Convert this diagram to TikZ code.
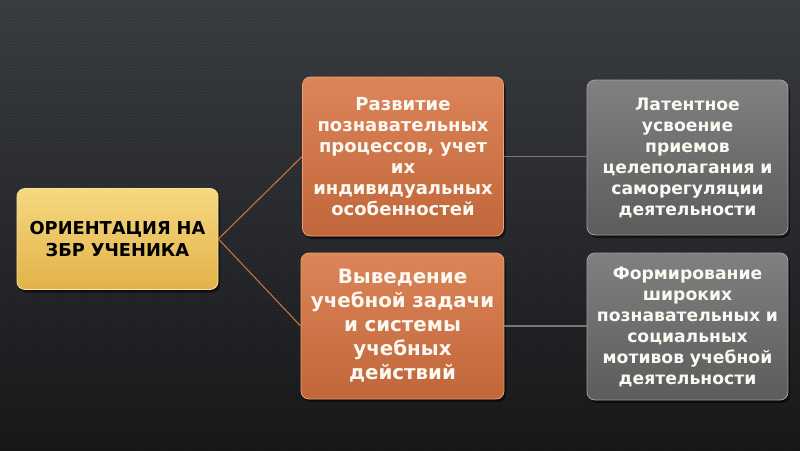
\documentclass[tikz,border=0pt]{standalone}
\usepackage{fontspec}
\setmainfont{DejaVu Sans}
\usetikzlibrary{shadows,patterns}
\definecolor{bgT}{RGB}{58,61,66}
\definecolor{bgB}{RGB}{24,24,26}
\definecolor{yelT}{RGB}{246,216,128}
\definecolor{yelB}{RGB}{226,178,72}
\definecolor{yelE}{RGB}{250,228,160}
\definecolor{orT}{RGB}{220,133,88}
\definecolor{orB}{RGB}{192,102,58}
\definecolor{orE}{RGB}{236,160,112}
\definecolor{grT}{RGB}{128,128,128}
\definecolor{grB}{RGB}{92,92,92}
\definecolor{grE}{RGB}{160,160,160}
\definecolor{txtW}{RGB}{252,248,242}
\definecolor{lnO}{RGB}{190,116,72}
\definecolor{lnG}{RGB}{118,118,118}
\tikzset{
  box/.style={rounded corners=8pt, inner sep=0pt, align=center, font=\bfseries,
    line width=0.8pt,
    drop shadow={shadow xshift=2pt, shadow yshift=-3pt, opacity=0.55, fill=black}},
  ybox/.style={box, top color=yelT, bottom color=yelB, draw=yelE, text=black},
  obox/.style={box, top color=orT, bottom color=orB, draw=orE, text=txtW},
  gbox/.style={box, top color=grT, bottom color=grB, draw=grE, text=txtW},
  olink/.style={draw=lnO, line width=1.1pt},
  glink/.style={draw=lnG, line width=1.3pt}
}
\begin{document}
\begin{tikzpicture}[x=1pt,y=-1pt]
\useasboundingbox (0,0) rectangle (800,450);
\fill[top color=bgT, bottom color=bgB] (0,0) rectangle (800,450);
\fill[pattern=dots, pattern color=black, fill opacity=0.4] (0,0) rectangle (800,450);

\node[ybox, minimum width=201pt, minimum height=101pt, text width=198pt,
      font=\bfseries\fontsize{17.8}{22}\selectfont] (yel) at (117.5,239)
  {ОРИЕНТАЦИЯ НА\\ЗБР УЧЕНИКА};

\node[obox, minimum width=201pt, minimum height=159pt, text width=198pt,
      font=\bfseries\fontsize{18}{21}\selectfont] (o1) at (403,156.5)
  {Развитие\\познавательных\\процессов, учет\\их\\индивидуальных\\особенностей};

\node[obox, minimum width=203pt, minimum height=146pt, text width=200pt,
      font=\bfseries\fontsize{19.8}{24}\selectfont] (o2) at (402.5,326)
  {Выведение\\учебной задачи\\и системы\\учебных\\действий};

\node[gbox, minimum width=201pt, minimum height=155pt, text width=198pt,
      font=\bfseries\fontsize{17.2}{21}\selectfont] (g1) at (687.5,157.5)
  {Латентное\\усвоение\\приемов\\целеполагания и\\саморегуляции\\деятельности};

\node[gbox, minimum width=201pt, minimum height=147pt, text width=198pt,
      font=\bfseries\fontsize{17.2}{21}\selectfont] (g2) at (687.5,326.5)
  {Формирование\\широких\\познавательных и\\социальных\\мотивов учебной\\деятельности};

\draw[olink] (yel.east) -- (o1.west);
\draw[olink] (yel.east) -- (o2.west);
\draw[glink] (o1.east) -- (o1.east -| g1.west);
\draw[glink] (o2.east) -- (o2.east -| g2.west);
\end{tikzpicture}
\end{document}
